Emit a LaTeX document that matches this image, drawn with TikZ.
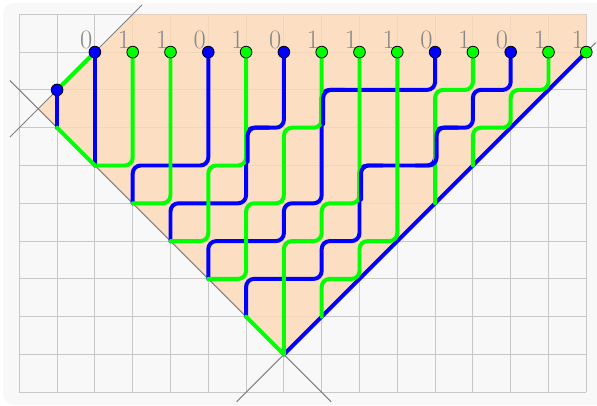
\documentclass[tikz,border=0pt]{standalone}
\definecolor{bgc}{RGB}{248,248,248}
\definecolor{gridc}{RGB}{200,200,200}
\definecolor{peach}{RGB}{253,217,181}
\definecolor{bl}{RGB}{0,0,255}
\definecolor{gr}{RGB}{0,255,0}
\definecolor{labc}{RGB}{136,136,136}
\definecolor{diagc}{RGB}{128,128,128}
\tikzset{
  wire/.style={line width=3pt, line cap=round, line join=round, rounded corners=6pt},
  bwire/.style={wire, draw=bl},
  gwire/.style={wire, draw=gr},
  dot0/.style={circle, draw=black, line width=0.6pt, fill=bl, minimum size=0.31cm, inner sep=0pt},
  dot1/.style={dot0, fill=gr},
  lab/.style={anchor=base east, inner sep=0pt, text=labc, font=\fontsize{20}{22}\selectfont},
  guide/.style={draw=diagc, line width=0.7pt},
}
\begin{document}
\begin{tikzpicture}[x=1cm,y=1cm]
\useasboundingbox (-0.5106,-0.3624) rectangle (15.2831,10.3783);
\fill[bgc, rounded corners=0.28cm] (-0.423,-0.336) rectangle (15.8,10.3);
\draw[gridc, line width=0.8pt] (0,0) grid (15,10);
\fill[peach, opacity=0.8] (0.5,7.5) -- (3,10) -- (15,10) -- (15,9) -- (7,1) -- cycle;
% guide lines
\draw[guide] (-0.25,6.75) -- (3.25,10.25);
\draw[guide] (-0.25,8.25) -- (8.25,-0.25);
\draw[guide] (5.75,-0.25) -- (15.25,9.25);
% top coordinates
\coordinate (c1) at (1,8);
\foreach \x in {2,...,15} { \coordinate (c\x) at (\x,9); }
% blue paths
\draw[bwire] (c1) -- (1,7);
\draw[bwire] (c2) -- (2,6);
\draw[bwire] (c5) -- (5,6) -- (3,6) -- (3,5);
\draw[bwire] (c7) -- (7,7) -- (6,7) -- (6,5) -- (4,5) -- (4,4);
\draw[bwire] (c11) -- (11,8) -- (8,8) -- (8,5) -- (7,5) -- (7,4) -- (5,4) -- (5,3);
\draw[bwire] (c13) -- (13,8) -- (12,8) -- (12,7) -- (11,7) -- (11,6) -- (9,6) -- (9,4) -- (8,4) -- (8,3) -- (6,3) -- (6,2);
\draw[bwire] (7,1) -- (c15);
% green paths
\draw[gwire] (c2) -- (c1);
\draw[gwire] (1,7) -- (2,6);
\draw[gwire] (6,2) -- (7,1);
\draw[gwire] (c3) -- (3,6) -- (2,6);
\draw[gwire] (c4) -- (4,5) -- (3,5);
\draw[gwire] (c6) -- (6,6) -- (5,6) -- (5,4) -- (4,4);
\draw[gwire] (c8) -- (8,7) -- (7,7) -- (7,5) -- (6,5) -- (6,3) -- (5,3);
\draw[gwire] (c9) -- (9,5) -- (8,5) -- (8,4) -- (7,4) -- (7,1);
\draw[gwire] (c10) -- (10,4) -- (9,4) -- (9,3) -- (8,3) -- (8,2);
\draw[gwire] (c12) -- (12,8) -- (11,8) -- (11,5);
\draw[gwire] (c14) -- (14,8) -- (13,8) -- (13,7) -- (12,7) -- (12,6);
% blue on shared edges
\draw[bwire] (6.6,7) -- (6.04,7) -- (6.04,6.1);
\draw[bwire] (8.6,8) -- (8.04,8) -- (8.04,7.1);
\draw[bwire] (9.6,6) -- (9.04,6) -- (9.04,5.1);
\draw[bwire] (11.6,7) -- (11.04,7) -- (11.04,6) -- (10.5,6);
% dots
\node[dot0] (d1) at (c1) {};
\foreach \x/\v in {2/0,3/1,4/1,5/0,6/1,7/0,8/1,9/1,10/1,11/0,12/1,13/0,14/1,15/1} {
  \node[dot\v] (d\x) at (c\x) {};
  \node[lab] (l\x) at (\x-0.06,9.1) {\v};
}
\end{tikzpicture}
\end{document}
